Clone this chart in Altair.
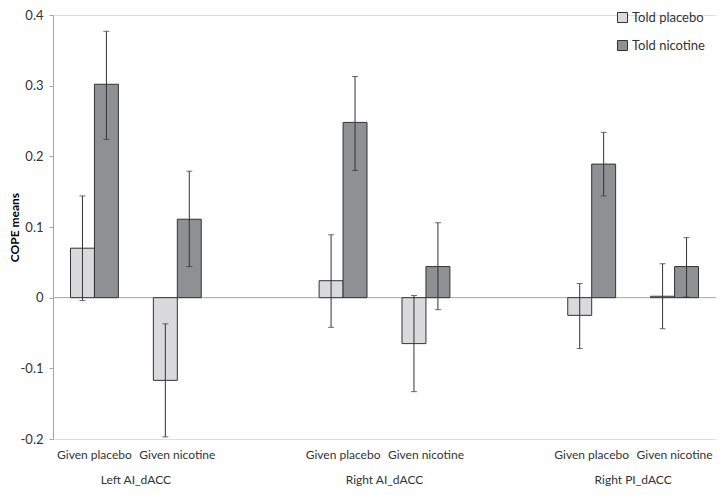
import altair as alt
import pandas as pd

regions = ["Left AI_dACC", "Right AI_dACC", "Right PI_dACC"]
conditions = ["Given placebo", "Given nicotine"]
told_levels = ["Told placebo", "Told nicotine"]

# order: region-major, condition-minor
tp_mean = [0.070, -0.117, 0.024, -0.065, -0.025, 0.002]
tp_low = [-0.004, -0.197, -0.042, -0.133, -0.072, -0.044]
tp_high = [0.144, -0.037, 0.089, 0.003, 0.020, 0.048]
tn_mean = [0.302, 0.111, 0.248, 0.044, 0.189, 0.044]
tn_low = [0.224, 0.044, 0.180, -0.017, 0.144, 0.001]
tn_high = [0.377, 0.179, 0.313, 0.106, 0.234, 0.085]

colors = ["#dadadc", "#8f9093"]
y_ticks = [-0.2, -0.1, 0.0, 0.1, 0.2, 0.3, 0.4]

rows = []
i = 0
for r in regions:
    for c in conditions:
        for t, m, lo, hi in [
            (told_levels[0], tp_mean[i], tp_low[i], tp_high[i]),
            (told_levels[1], tn_mean[i], tn_low[i], tn_high[i]),
        ]:
            rows.append({"slot": f"{r}|{c}", "region": r, "cond": c, "told": t,
                         "mean": m, "low": lo, "high": hi})
        i += 1
df = pd.DataFrame(rows)

slot_domain = []
for k, r in enumerate(regions):
    for c in conditions:
        slot_domain.append(f"{r}|{c}")
    if k < len(regions) - 1:
        slot_domain.append(f"gap{k}")

grp = pd.DataFrame({"region": regions, "slot": [f"{r}|{conditions[1]}" for r in regions]})

W, H = 663, 424
FONT = "Lato"
TXT = "#333333"

x_enc = alt.X(
    "slot:N",
    scale=alt.Scale(domain=slot_domain, paddingInner=0, paddingOuter=0),
    axis=alt.Axis(
        title=None, domain=False, ticks=False, labelAngle=0, labelPadding=10,
        labelFontSize=12, labelFont=FONT, labelColor=TXT,
        labelExpr="indexof(datum.value, '|') >= 0 ? split(datum.value, '|')[1] : ''",
    ),
)
xoff = alt.XOffset("told:N", scale=alt.Scale(domain=told_levels, paddingOuter=0.73, paddingInner=0))
y_scale = alt.Scale(domain=[-0.2, 0.4], nice=False, zero=False)

base = alt.Chart(df)

zero = alt.Chart(pd.DataFrame({"v": [0.0]})).mark_rule(color="#a6a6a6", strokeWidth=1).encode(
    y=alt.Y("v:Q", scale=y_scale)
)

bars = base.mark_bar(stroke="#333333", strokeWidth=1).encode(
    x=x_enc,
    xOffset=xoff,
    y=alt.Y(
        "mean:Q", scale=y_scale,
        axis=alt.Axis(
            title="COPE means", values=y_ticks, grid=False,
            labelExpr="datum.value == 0 ? '0' : (datum.value < 0 ? '-' : '') + format(abs(datum.value), '.1f')",
            labelFontSize=13, labelFont=FONT, labelColor=TXT, labelPadding=6,
            tickSize=4, tickColor="#a6a6a6", domainColor="#a6a6a6",
            titleFont=FONT, titleFontSize=12, titleFontWeight="bold", titleColor="#000000",
            titleX=-44, titleY=H / 2, titleAngle=270, titleAlign="center", titleBaseline="top",
        ),
    ),
    y2=alt.datum(0),
    color=alt.Color(
        "told:N", scale=alt.Scale(domain=told_levels, range=colors),
        legend=alt.Legend(
            title=None, orient="none", legendX=563, legendY=-4,
            symbolType="square", symbolSize=100, symbolStrokeColor="#333333",
            symbolStrokeWidth=1, labelFont=FONT, labelFontSize=13, labelColor=TXT,
            rowPadding=13, labelOffset=3, padding=0,
        ),
    ),
)

err = base.mark_rule(color="#333333", strokeWidth=1).encode(
    x=x_enc, xOffset=xoff, y=alt.Y("low:Q", scale=y_scale), y2="high:Q"
)
cap_lo = base.mark_tick(color="#333333", thickness=1, size=6).encode(
    x=x_enc, xOffset=xoff, y=alt.Y("low:Q", scale=y_scale)
)
cap_hi = base.mark_tick(color="#333333", thickness=1, size=6).encode(
    x=x_enc, xOffset=xoff, y=alt.Y("high:Q", scale=y_scale)
)

labels = alt.Chart(grp).mark_text(
    font=FONT, fontSize=12, color=TXT, baseline="middle", align="center"
).encode(
    x=alt.X("slot:N", bandPosition=0, scale=alt.Scale(domain=slot_domain)),
    y=alt.value(H + 41),
    text="region:N",
)

chart = alt.layer(zero, bars, err, cap_lo, cap_hi, labels).properties(
    width=W, height=H,
    autosize=alt.AutoSizeParams(type="none"),
    padding={"left": 45, "top": 7, "right": 0, "bottom": 48},
).configure_view(stroke=None).configure(background="white")

chart.save("out.html", embed_options={"renderer": "svg", "actions": False})
